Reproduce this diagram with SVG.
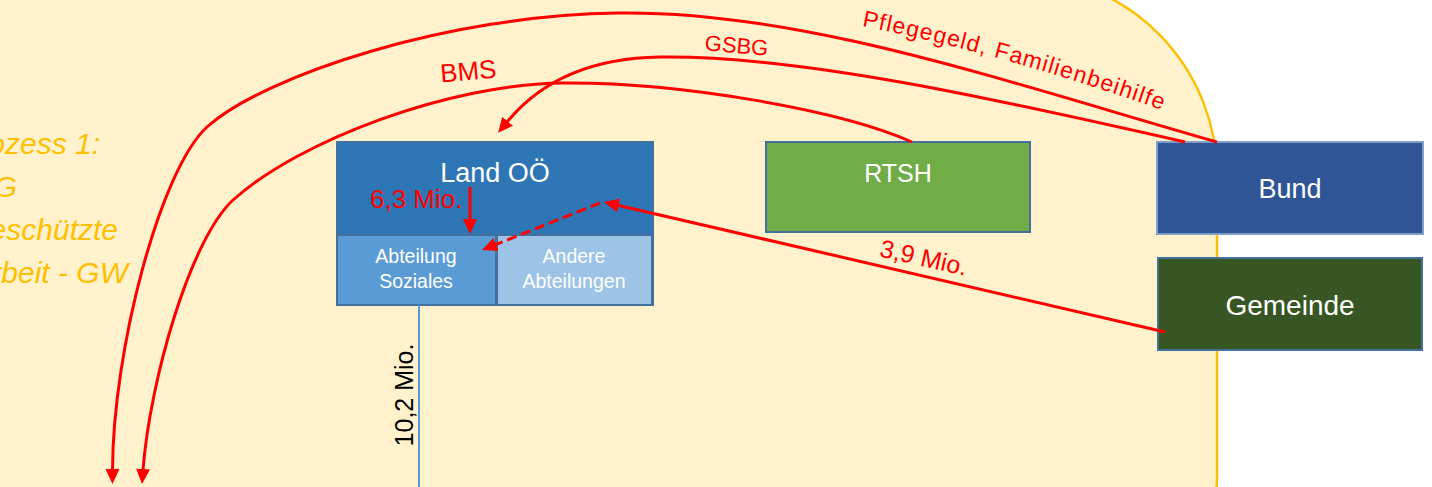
<svg xmlns="http://www.w3.org/2000/svg" width="1432" height="487" viewBox="0 0 1432 487">
<style>
.lbl{font-family:"Liberation Sans",Arial,sans-serif;fill:#fff;text-anchor:middle}
.red{font-family:"Liberation Sans",Arial,sans-serif;fill:#ff0000}
.proc{font-family:"Liberation Sans",Arial,sans-serif;font-style:italic;font-size:30px;fill:#FFC000;text-anchor:end}
.flow{fill:none;stroke:#ff0000;stroke-width:3}
.box{stroke:#41719C;stroke-width:2}
</style>
<defs>
<marker id="arr" markerUnits="userSpaceOnUse" markerWidth="16" markerHeight="16" viewBox="0 0 16 16" refX="1" refY="8" orient="auto">
<path d="M0,1 L15,8 L0,15 z" fill="#ff0000"/>
</marker>
</defs>
<rect width="1432" height="487" fill="#ffffff"/>
<g id="process">
<rect x="-200" y="-25" width="1417" height="700" rx="200" ry="200" fill="#FFF2CC" stroke="#FFC000" stroke-width="2.5"/>
<text class="proc" x="100" y="154">Prozess 1:</text>
<text class="proc" x="17" y="197">ChG</text>
<text class="proc" x="118" y="240">Geschützte</text>
<text class="proc" x="128" y="283">Arbeit - GW</text>
</g>
<g id="land-ooe">
<rect class="box" x="337" y="142" width="316" height="163" fill="#2E75B6"/>
<text class="lbl" x="495" y="182" font-size="27">Land OÖ</text>
</g>
<g id="abteilung-soziales">
<rect class="box" x="337" y="235" width="159" height="70" fill="#5B9BD5"/>
<text class="lbl" x="416" y="263" font-size="19.5">Abteilung</text>
<text class="lbl" x="416" y="288" font-size="19.5">Soziales</text>
</g>
<g id="andere-abteilungen">
<rect class="box" x="497" y="235" width="155" height="70" fill="#9DC3E6"/>
<text class="lbl" x="574" y="263" font-size="19.5">Andere</text>
<text class="lbl" x="574" y="288" font-size="19.5">Abteilungen</text>
</g>
<g id="rtsh">
<rect class="box" x="766" y="142" width="264" height="90" fill="#70AD47"/>
<text class="lbl" x="898" y="182" font-size="25">RTSH</text>
</g>
<g id="bund">
<rect x="1157" y="142" width="266" height="92" fill="#2F5597" stroke="#7F9FC9" stroke-width="2"/>
<text class="lbl" x="1290" y="198" font-size="27">Bund</text>
</g>
<g id="gemeinde">
<rect class="box" x="1158" y="258" width="264" height="92" fill="#375623"/>
<text class="lbl" x="1290" y="315" font-size="28">Gemeinde</text>
</g>
<g id="connectors">
<line x1="419" y1="305" x2="419" y2="487" stroke="#5B9BD5" stroke-width="2"/>
<text class="red" style="fill:#000" font-size="25" text-anchor="middle" transform="translate(413,395) rotate(-90)">10,2 Mio.</text>
<path class="flow" d="M1217,142 C1000,80 800,10 617,13 C450,15 265,75 207,127 C160,170 113,350 112.5,470" marker-end="url(#arr)"/>
<path class="flow" d="M912,142 C840,110 680,82 563,83 C450,84 300,140 233,200 C190,240 150,380 143,470" marker-end="url(#arr)"/>
<path class="flow" d="M1185,142 C1000,100 800,55 660,57 C580,58 535,88 507,122" marker-end="url(#arr)"/>
<line class="flow" x1="470" y1="187" x2="470" y2="220" marker-end="url(#arr)"/>
<line class="flow" x1="1165" y1="332" x2="617.6" y2="205.2" marker-end="url(#arr)"/>
<line class="flow" x1="600" y1="203" x2="495" y2="244.9" stroke-dasharray="10,5" marker-end="url(#arr)"/>
<text class="red" font-size="26" x="370" y="208">6,3 Mio.</text>
<text class="red" font-size="25" text-anchor="middle" transform="translate(922,266) rotate(12.7)">3,9 Mio.</text>
<text class="red" font-size="26" text-anchor="middle" transform="translate(469,80) rotate(-5)">BMS</text>
<text class="red" font-size="22" text-anchor="middle" transform="translate(736,53) rotate(5)">GSBG</text>
<path id="pflegePath" d="M862,26 Q1010,55 1176,115" fill="none"/>
<text class="red" font-size="23"><textPath href="#pflegePath" textLength="312" lengthAdjust="spacing">Pflegegeld, Familienbeihilfe</textPath></text>
</g>
</svg>
